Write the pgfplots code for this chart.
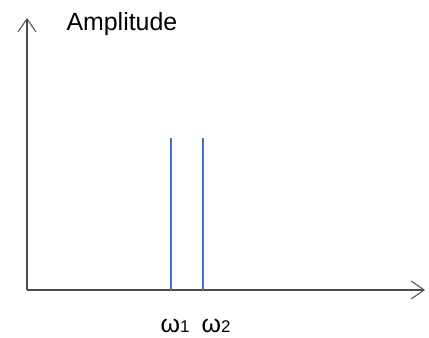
\documentclass[border=0pt]{standalone}
\usepackage{fontspec}
\setmainfont{Liberation Sans}
\usepackage{pgfplots}
\pgfplotsset{compat=1.18}
\usetikzlibrary{arrows.meta}
\definecolor{lineblue}{HTML}{4472C4}
\definecolor{axgray}{HTML}{4D4D4D}
\begin{document}
\begin{tikzpicture}
\begin{axis}[
  scale only axis,
  width=398bp, height=272bp,
  xmin=0, xmax=398, ymin=0, ymax=272,
  axis lines=left,
  x axis line style={line width=1.6bp, draw=axgray, -{Straight Barb[length=13bp,width=18bp,line width=1bp]}},
  y axis line style={line width=1.6bp, draw=axgray, -{Straight Barb[length=13bp,width=18bp,line width=1bp]}},
  ytick=\empty,
  xtick={148,189},
  xticklabels={{ω\fontsize{17}{17}\selectfont 1},{ω\fontsize{17}{17}\selectfont 2}},
  major tick length=0pt,
  xticklabel style={font=\fontsize{25}{25}\selectfont, anchor=base, yshift=-42bp},
  clip=false,
]
\addplot[ycomb, no marks, draw=lineblue, line width=2.8bp] coordinates {(144,152) (176,152)};
\node[anchor=base west, font=\fontsize{25}{25}\selectfont] at (axis cs:36,259) {Amplitude};
\end{axis}
\path[use as bounding box] (-27bp,-48bp) rectangle (402bp,290bp);
\end{tikzpicture}
\end{document}
